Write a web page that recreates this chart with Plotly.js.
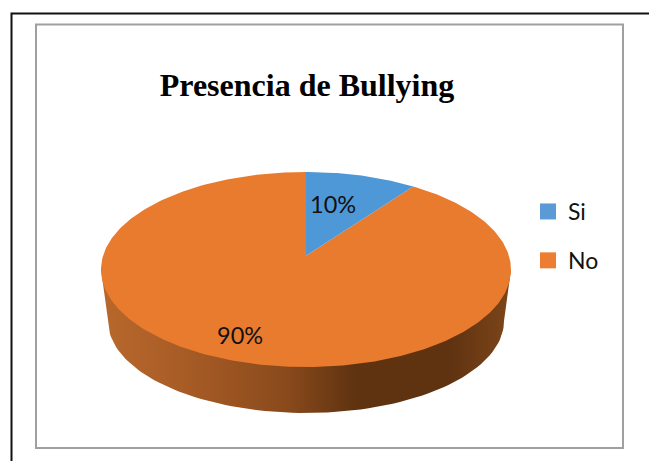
<!DOCTYPE html>
<html>
<head>
<meta charset="utf-8">
<script src="https://cdn.plot.ly/plotly-3.0.1.min.js"></script>
<style>html,body{margin:0;padding:0;background:#fff;overflow:hidden}</style>
</head>
<body>
<div id="chart" style="width:649px;height:461px"></div>
<script>
// Data
const categories = ['Si', 'No'];
const values = [10, 90];
const sliceColors = ['#4F98D8', '#E97B2F'];
const chartTitle = 'Presencia de Bullying';

// Tilted-disc geometry, in the units of the chart's own axes
const W = 649, H = 461;
const face = {cx: 306, cy: 269.5, rx: 205, ry: 97.5};
const base = {cx: 306, cy: 321, rx: 198, ry: 92};
const persp = 0.14;
const total = values.reduce((a, b) => a + b, 0);

// Projects an angle (clockwise from 12 o'clock) onto the tilted top face
function project(deg) {
  const t = deg * Math.PI / 180, X = Math.sin(t), Y = Math.cos(t);
  const d = 1 + persp * Y;
  return [face.cx + face.rx * X * Math.sqrt(1 - persp * persp) / d,
          face.cy - face.ry * (Y + persp) / d];
}
const apex = [face.cx, face.cy - face.ry * persp];

function sliceShape(startDeg, endDeg) {
  const xs = [apex[0]], ys = [apex[1]];
  const n = Math.max(8, Math.round(endDeg - startDeg));
  for (let i = 0; i <= n; i++) {
    const p = project(startDeg + (endDeg - startDeg) * i / n);
    xs.push(p[0]); ys.push(p[1]);
  }
  xs.push(apex[0]); ys.push(apex[1]);
  return {xs, ys};
}

// Outer wall of the disc
const wallX = [], wallY = [];
wallX.push(face.cx - face.rx); wallY.push(face.cy);
for (let a = -90; a <= 90; a += 2) {
  const t = a * Math.PI / 180;
  wallX.push(base.cx + base.rx * Math.sin(t));
  wallY.push(base.cy + base.ry * Math.cos(t));
}
wallX.push(face.cx + face.rx); wallY.push(face.cy);
wallX.push(face.cx - face.rx); wallY.push(face.cy);

const traces = [{
  x: wallX, y: wallY, type: 'scatter', mode: 'lines', fill: 'toself',
  line: {width: 0}, showlegend: false, hoverinfo: 'skip',
  fillcolor: '#7a4317',
  fillgradient: {
    type: 'horizontal',
    colorscale: [[0, '#B8682C'], [0.2, '#A85C26'], [0.45, '#8A4A1C'],
                 [0.62, '#5F3310'], [0.85, '#5F3311'], [1, '#7E4519']]
  }
}];

// Orange drawn first so that the blue slice lies on top
let acc = 0;
const shapesData = values.map((v, i) => {
  const s = acc / total * 360; acc += v;
  return sliceShape(s, acc / total * 360);
});
[1, 0].forEach(i => {
  traces.push({
    x: shapesData[i].xs, y: shapesData[i].ys, type: 'scatter', mode: 'lines',
    fill: 'toself', fillcolor: sliceColors[i], line: {width: 0},
    showlegend: false, hoverinfo: 'skip'
  });
});

// Legend entries
categories.forEach((c, i) => {
  traces.push({
    x: [-100], y: [-100], type: 'scatter', mode: 'markers', name: c,
    legendgroup: c,
    marker: {symbol: 'square', size: 16, color: i === 0 ? '#5B9BD5' : '#ED7D31'}
  });
});

const labelAt = [[333, 204], [240, 335]];
const layout = {
  width: W, height: H,
  margin: {l: 0, r: 0, t: 0, b: 0},
  paper_bgcolor: '#fff', plot_bgcolor: '#fff',
  xaxis: {range: [0, W], visible: false, fixedrange: true},
  yaxis: {range: [H, 0], visible: false, fixedrange: true},
  title: {
    text: '<b>' + chartTitle + '</b>',
    font: {family: 'Liberation Serif', size: 32, color: '#000'},
    x: 307 / W, xanchor: 'center', y: 1 - 85 / H, yanchor: 'middle'
  },
  showlegend: true,
  legend: {
    x: 528 / W, xanchor: 'left', y: 1 - 190 / H, yanchor: 'top',
    font: {family: 'Lato', size: 23, color: '#111'},
    tracegroupgap: 16, bgcolor: 'rgba(0,0,0,0)', itemclick: false, itemdoubleclick: false
  },
  annotations: values.map((v, i) => ({
    x: labelAt[i][0], y: labelAt[i][1], xref: 'x', yref: 'y',
    text: v + '%', showarrow: false,
    font: {family: 'Lato', size: 23.5, color: '#111'},
    xanchor: 'center', yanchor: 'middle'
  })),
  shapes: [
    {type: 'rect', xref: 'x', yref: 'y', x0: 11.5, y0: 13.5, x1: 670, y1: 480,
     line: {color: '#111', width: 2}, layer: 'below'},
    {type: 'rect', xref: 'x', yref: 'y', x0: 36, y0: 24.5, x1: 623, y1: 448,
     line: {color: '#a0a0a0', width: 2}, layer: 'below'}
  ]
};
Plotly.newPlot('chart', traces, layout, {displayModeBar: false, staticPlot: true});
</script>
</body>
</html>
